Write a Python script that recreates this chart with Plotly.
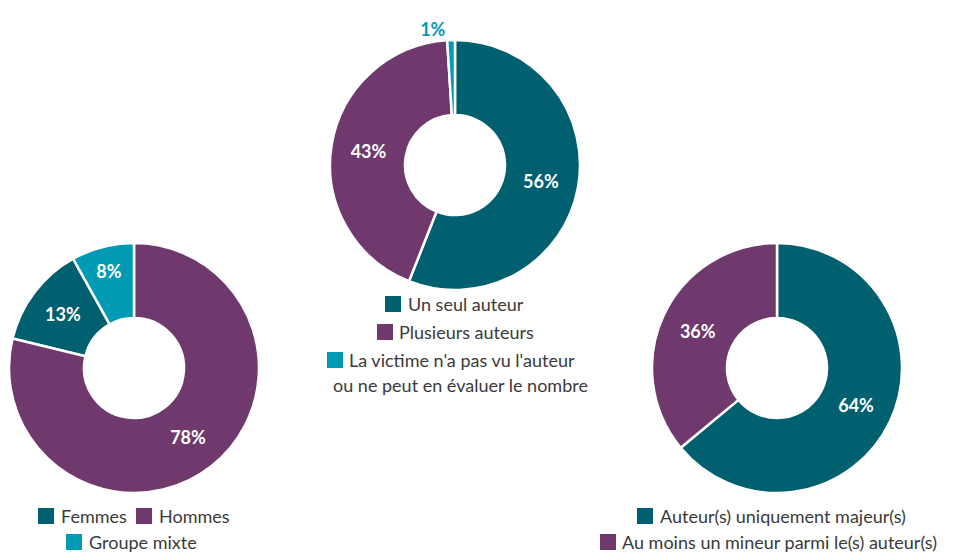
import plotly.graph_objects as go

W, H = 953, 554

TEAL = "#00606f"
PURPLE = "#70396e"
CYAN = "#009ab5"
TEXT = "#3a3a3a"
FONT = "Lato"

# Chart 1: sexe de l'auteur
sexe_labels = ["Femmes", "Hommes", "Groupe mixte"]
sexe_values = [13, 78, 8]
sexe_colors = [TEAL, PURPLE, CYAN]

# Chart 2: nombre d'auteurs
nombre_labels = ["Un seul auteur", "Plusieurs auteurs",
                 "La victime n'a pas vu l'auteur<br>ou ne peut en évaluer le nombre"]
nombre_values = [56, 43, 1]
nombre_colors = [TEAL, PURPLE, CYAN]

# Chart 3: âge des auteurs
age_labels = ["Auteur(s) uniquement majeur(s)", "Au moins un mineur parmi le(s) auteur(s)"]
age_values = [64, 36]
age_colors = [TEAL, PURPLE]


def px_dom(x0, x1, y0, y1):
    return dict(x=[x0 / W, x1 / W], y=[1 - y1 / H, 1 - y0 / H])


fig = go.Figure()

common = dict(hole=0.4, sort=False, textinfo="text", texttemplate="%{value}%",
              insidetextorientation="horizontal", showlegend=False, hoverinfo="label+value")
pct_font = dict(family=FONT, size=18, weight="bold")

fig.add_trace(go.Pie(
    labels=sexe_labels, values=sexe_values,
    marker=dict(colors=sexe_colors, line=dict(color="white", width=2.5)),
    direction="counterclockwise",
    rotation=360 * sexe_values[1] / sum(sexe_values),
    textposition="inside",
    textfont=dict(color="white", **pct_font),
    domain=px_dom(9, 259, 243, 493), **common))

fig.add_trace(go.Pie(
    labels=nombre_labels, values=nombre_values,
    marker=dict(colors=nombre_colors, line=dict(color="white", width=2.5)),
    direction="clockwise", rotation=0,
    textposition=["inside", "inside", "outside"],
    textfont=dict(color=["white", "white", CYAN], **pct_font),
    domain=px_dom(330, 580, 40, 290), **common))

fig.add_trace(go.Pie(
    labels=age_labels, values=age_values,
    marker=dict(colors=age_colors, line=dict(color="white", width=2.5)),
    direction="clockwise", rotation=0,
    textposition="inside",
    textfont=dict(color="white", **pct_font),
    domain=px_dom(652, 902, 243, 493), **common))

# Custom centred legends (square + label), in pixel positions
legend_rows = [
    # (square_x0, text_x, y_center, label, color)
    (38, 59, 516, sexe_labels[0], sexe_colors[0]),
    (136, 157, 516, sexe_labels[1], sexe_colors[1]),
    (66, 87, 542, sexe_labels[2], sexe_colors[2]),
    (385, 406, 304, nombre_labels[0], nombre_colors[0]),
    (377, 397, 332, nombre_labels[1], nombre_colors[1]),
    (327, 347, 360, nombre_labels[2].split("<br>")[0], nombre_colors[2]),
    (637, 658, 516, age_labels[0], age_colors[0]),
    (600, 620, 542, age_labels[1], age_colors[1]),
]

shapes = []
annotations = []
for sx, tx, yc, lab, col in legend_rows:
    shapes.append(dict(type="rect", xref="paper", yref="paper",
                       x0=sx / W, x1=(sx + 16) / W,
                       y0=1 - (yc + 8) / H, y1=1 - (yc - 8) / H,
                       fillcolor=col, line=dict(width=0)))
    annotations.append(dict(text=lab, xref="paper", yref="paper",
                            x=tx / W, y=1 - yc / H, xanchor="left", yanchor="middle",
                            showarrow=False, font=dict(family=FONT, size=18, color=TEXT)))
annotations.append(dict(text=nombre_labels[2].split("<br>")[1], xref="paper", yref="paper",
                        x=460 / W, y=1 - 385 / H, xanchor="center", yanchor="middle",
                        showarrow=False, font=dict(family=FONT, size=18, color=TEXT)))

fig.update_layout(
    width=W, height=H,
    margin=dict(l=0, r=0, t=0, b=0),
    paper_bgcolor="white", plot_bgcolor="white",
    font=dict(family=FONT, color=TEXT),
    shapes=shapes, annotations=annotations,
)

fig.write_html("out.html", config={"displayModeBar": False},
               post_script="document.body.style.margin='0px';document.body.style.overflow='hidden';")
